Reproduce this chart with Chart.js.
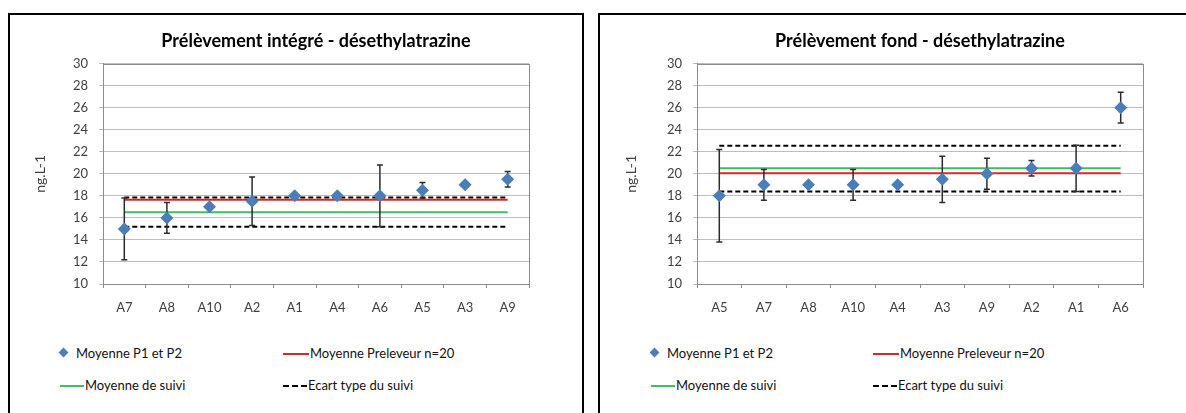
<!DOCTYPE html>
<html>
<head>
<meta charset="utf-8">
<script src="https://cdn.jsdelivr.net/npm/chart.js@4/dist/chart.umd.min.js"></script>
<style>
  body { margin: 0; background: #fff; width: 1186px; height: 413px; overflow: hidden; position: relative; font-family: Lato, "Open Sans", sans-serif; }
  .panel { position: absolute; top: 13px; height: 420px; border: 2px solid #000; background: #fff; }
  canvas { position: absolute; top: 0; }
  .leg { position: absolute; font-size: 13px; color: #111; white-space: nowrap; line-height: 16px; }
  .leg .diam { display: inline-block; width: 7px; height: 7px; background: #4a7ebb; transform: rotate(45deg); margin: 0 9px 2px 2px; }
  .leg .ligne { display: inline-block; width: 26px; height: 0; border-top: 2px solid; vertical-align: middle; margin: 0 1px 2px 0; }
</style>
</head>
<body>
<div class="panel" style="left:8px; width:572px;">
  <canvas id="integre" width="572" height="315"></canvas>
</div>
<div class="panel" style="left:598px; width:600px;">
  <canvas id="fond" width="550" height="315" style="left:1px;"></canvas>
</div>

<div class="leg" style="left:58px; top:345px;"><span class="diam"></span>Moyenne P1 et P2</div>
<div class="leg" style="left:283px; top:345px;"><span class="ligne" style="border-color:#d42a27;"></span>Moyenne Preleveur n=20</div>
<div class="leg" style="left:60px; top:377px;"><span class="ligne" style="border-color:#3cbf63; width:24px;"></span>Moyenne de suivi</div>
<div class="leg" style="left:283px; top:377px;"><span class="ligne" style="border-color:#000; border-top-style:dashed; width:24px;"></span>Ecart type du suivi</div>

<div class="leg" style="left:649px; top:345px;"><span class="diam"></span>Moyenne P1 et P2</div>
<div class="leg" style="left:873px; top:345px;"><span class="ligne" style="border-color:#d42a27;"></span>Moyenne Preleveur n=20</div>
<div class="leg" style="left:651px; top:377px;"><span class="ligne" style="border-color:#3cbf63; width:24px;"></span>Moyenne de suivi</div>
<div class="leg" style="left:873px; top:377px;"><span class="ligne" style="border-color:#000; border-top-style:dashed; width:24px;"></span>Ecart type du suivi</div>

<script>
// Prélèvement intégré
const categoriesInt = ['A7', 'A8', 'A10', 'A2', 'A1', 'A4', 'A6', 'A5', 'A3', 'A9'];
const moyennesInt = [15, 16, 17, 17.5, 18, 18, 18, 18.5, 19, 19.5];
const ecartsInt = [2.8, 1.4, 0, 2.2, 0, 0, 2.8, 0.7, 0, 0.7];
const preleveurInt = 17.65;
const suiviInt = 16.5;
const ecartHautInt = 17.85;
const ecartBasInt = 15.2;

// Prélèvement fond
const categoriesFond = ['A5', 'A7', 'A8', 'A10', 'A4', 'A3', 'A9', 'A2', 'A1', 'A6'];
const moyennesFond = [18, 19, 19, 19, 19, 19.5, 20, 20.5, 20.5, 26];
const ecartsFond = [4.2, 1.4, 0, 1.4, 0, 2.1, 1.4, 0.7, 2.1, 1.4];
const preleveurFond = 20.05;
const suiviFond = 20.5;
const ecartHautFond = 22.55;
const ecartBasFond = 18.4;

const yTicks = [10, 12, 14, 16, 18, 20, 22, 24, 26, 28, 30];

const police = 'Lato, "Open Sans", sans-serif';

// barres d'erreur dessinées juste avant les losanges
const barresErreur = {
    id: 'barresErreur',
    beforeDatasetDraw(chart, args) {
        if (args.index !== 0) return;
        const ecarts = chart.options.plugins.barresErreur.ecarts;
        const valeurs = chart.data.datasets[0].data;
        const { x, y } = chart.scales;
        const ctx = chart.ctx;
        ctx.save();
        ctx.strokeStyle = '#2b2b2b';
        ctx.lineWidth = 1.5;
        valeurs.forEach((v, i) => {
            if (!ecarts[i]) return;
            const px = x.getPixelForValue(i);
            const haut = y.getPixelForValue(v + ecarts[i]);
            const bas = y.getPixelForValue(v - ecarts[i]);
            ctx.beginPath();
            ctx.moveTo(px, haut); ctx.lineTo(px, bas);
            ctx.moveTo(px - 3, haut); ctx.lineTo(px + 3, haut);
            ctx.moveTo(px - 3, bas); ctx.lineTo(px + 3, bas);
            ctx.stroke();
        });
        ctx.restore();
    }
};

// cadre gris de la zone de tracé
const cadre = {
    id: 'cadre',
    beforeDatasetsDraw(chart) {
        const a = chart.chartArea;
        const ctx = chart.ctx;
        ctx.save();
        ctx.strokeStyle = '#8c8c8c';
        ctx.lineWidth = 1;
        ctx.strokeRect(Math.round(a.left) + 0.5, Math.round(a.top) + 0.5, Math.round(a.right - a.left), Math.round(a.bottom - a.top));
        ctx.restore();
    }
};

function ligneConstante(cats, valeur, couleur, tirets) {
    return {
        type: 'line',
        data: [{ x: cats[0], y: valeur }, { x: cats[cats.length - 1], y: valeur }],
        borderColor: couleur,
        borderWidth: 2,
        borderDash: tirets ? [5, 3] : [],
        pointRadius: 0,
        fill: false
    };
}

function creerGraphique(id, titre, cats, valeurs, ecarts, preleveur, suivi, haut, bas, largeurAxe, margeDroite) {
    return new Chart(document.getElementById(id), {
        type: 'line',
        data: {
            labels: cats,
            datasets: [
                {
                    data: valeurs,
                    showLine: false,
                    pointStyle: 'rectRot',
                    pointRadius: 6.5,
                    backgroundColor: '#4a7ebb',
                    borderColor: '#4a7ebb',
                    borderWidth: 0
                },
                ligneConstante(cats, preleveur, '#d42a27', false),
                ligneConstante(cats, suivi, '#3cbf63', false),
                ligneConstante(cats, haut, '#000', true),
                ligneConstante(cats, bas, '#000', true)
            ]
        },
        options: {
            responsive: false,
            animation: false,
            layout: { padding: { left: 0, right: margeDroite, top: 0, bottom: 16 } },
            plugins: {
                legend: { display: false },
                tooltip: { enabled: false },
                title: {
                    display: true,
                    fullSize: false,
                    text: titre,
                    color: '#000',
                    font: { family: police, size: 18, weight: 'bold' },
                    padding: { top: 15, bottom: 12 }
                },
                barresErreur: { ecarts: ecarts }
            },
            scales: {
                x: {
                    offset: true,
                    grid: { offset: true, drawOnChartArea: false, tickLength: 4, color: '#8c8c8c' },
                    border: { color: '#8c8c8c' },
                    ticks: { color: '#404040', font: { family: police, size: 13 }, padding: 12, maxRotation: 0 },
                    afterFit: s => { s.height = 30; }
                },
                y: {
                    min: 10,
                    max: 30,
                    afterBuildTicks: s => { s.ticks = yTicks.map(v => ({ value: v })); },
                    grid: { color: '#bdbdbd', tickLength: 4 },
                    border: { color: '#8c8c8c' },
                    ticks: { color: '#404040', font: { family: police, size: 13 }, padding: 11 },
                    title: {
                        display: true,
                        text: 'ng.L-1',
                        color: '#404040',
                        font: { family: police, size: 14 },
                        padding: { top: 22, bottom: 0 }
                    },
                    afterFit: s => { s.width = largeurAxe; }
                }
            }
        },
        plugins: [barresErreur, cadre]
    });
}

creerGraphique('integre', 'Prélèvement intégré - désethylatrazine', categoriesInt, moyennesInt, ecartsInt,
    preleveurInt, suiviInt, ecartHautInt, ecartBasInt, 93, 53);
creerGraphique('fond', 'Prélèvement fond - désethylatrazine', categoriesFond, moyennesFond, ecartsFond,
    preleveurFond, suiviFond, ecartHautFond, ecartBasFond, 96, 8);
</script>
</body>
</html>
